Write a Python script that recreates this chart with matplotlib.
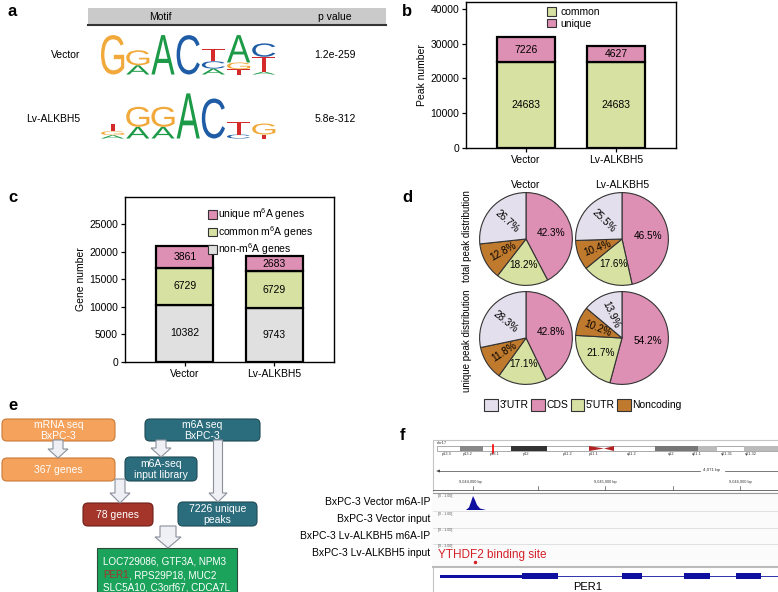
import matplotlib
matplotlib.use('Agg')
import matplotlib.pyplot as plt
from matplotlib.patches import Rectangle, FancyBboxPatch, FancyArrow, Polygon, PathPatch, Patch
from matplotlib.textpath import TextPath
from matplotlib.font_manager import FontProperties
from matplotlib.transforms import Affine2D

plt.rcParams['font.family'] = ['Liberation Sans', 'DejaVu Sans']
plt.rcParams['mathtext.fontset'] = 'custom'
plt.rcParams['mathtext.rm'] = 'Liberation Sans'
plt.rcParams['mathtext.default'] = 'regular'

# ---------------------------------------------------------------- data
groups = ['Vector', 'Lv-ALKBH5']
p_values = ['1.2e-259', '5.8e-312']

# motif columns, letters listed bottom -> top, heights in bits
motif_vector = [[('G', 2.0)], [('A', 0.47), ('G', 0.76)], [('A', 2.0)], [('C', 2.0)],
                [('A', 0.30), ('C', 0.37), ('T', 0.64)], [('T', 0.27), ('G', 0.34), ('A', 1.39)],
                [('A', 0.14), ('T', 0.76), ('C', 0.68)]]
motif_alkbh5 = [[('A', 0.17), ('G', 0.20), ('T', 0.39)], [('A', 0.59), ('G', 1.02)],
                [('A', 0.59), ('G', 1.02)], [('A', 2.29)], [('C', 2.03)],
                [('C', 0.20), ('T', 0.64)], [('T', 0.20), ('G', 0.56)]]

peak_common = [24683, 24683]
peak_unique = [7226, 4627]

gene_non = [10382, 9743]
gene_common = [6729, 6729]
gene_unique = [3861, 2683]

pie_regions = ['CDS', "5'UTR", 'Noncoding', "3'UTR"]
legend_regions = ["3'UTR", 'CDS', "5'UTR", 'Noncoding']
total_vector = [42.3, 18.2, 12.8, 26.7]
total_alkbh5 = [46.5, 17.6, 10.4, 25.5]
unique_vector = [42.8, 17.1, 11.8, 28.3]
unique_alkbh5 = [54.2, 21.7, 10.2, 13.9]

track_names = ['BxPC-3 Vector m6A-IP', 'BxPC-3 Vector input',
               'BxPC-3 Lv-ALKBH5 m6A-IP', 'BxPC-3 Lv-ALKBH5 input']
candidate_genes = ['LOC729086, GTF3A, NPM3', 'PER1', ', RPS29P18, MUC2', 'SLC5A10, C3orf67, CDCA7L']

# ---------------------------------------------------------------- colours
base_colors = {'A': '#1d9a48', 'C': '#1f5ca6', 'G': '#f2a93b', 'T': '#d42a2a'}
c_pink = '#de8fb4'
c_green = '#d6e1a2'
c_gray = '#e0e0e0'
c_lav = '#e4dfec'
c_brown = '#c07a2e'
region_colors = {'CDS': c_pink, "5'UTR": c_green, 'Noncoding': c_brown, "3'UTR": c_lav}
c_orange = '#f4a25c'
c_teal = '#2c6d7d'

W, H = 778, 592
fig = plt.figure(figsize=(W / 100, H / 100), dpi=100)

# overlay axes in pixel coordinates for drawn panels (a, e, f)
ax0 = fig.add_axes([0, 0, 1, 1])
ax0.set_xlim(0, W)
ax0.set_ylim(H, 0)
ax0.axis('off')


def px_axes(left, top, right, bottom):
    return fig.add_axes([left / W, 1 - bottom / H, (right - left) / W, (bottom - top) / H])


for lab, x, y in [('a', 8, 12), ('b', 402, 12), ('c', 8, 197), ('d', 402, 197), ('e', 8, 405), ('f', 400, 436)]:
    ax0.text(x, y, lab, fontsize=12, fontweight='bold', va='center', ha='left')

# ---------------------------------------------------------------- panel a
ax0.add_patch(Rectangle((88, 8), 298, 17, fc='#cacaca', ec='none'))
ax0.plot([88, 386], [25, 25], color='#333333', lw=1.5)
ax0.text(160, 16.5, 'Motif', fontsize=7.5, ha='center', va='center')
ax0.text(335, 16.5, 'p value', fontsize=7.5, ha='center', va='center')

logo_font = FontProperties(family='Liberation Sans')
bit_px = 19.7
col_w = 25.2


def draw_letter(ch, x, y, w, h):
    tp = TextPath((0, 0), ch, size=1, prop=logo_font)
    bb = tp.get_extents()
    tr = Affine2D().translate(-bb.x0, -bb.y0).scale(w / bb.width, -h / bb.height).translate(x, y)
    ax0.add_patch(PathPatch(tr.transform_path(tp), fc=base_colors[ch], ec='none'))


def draw_logo(motif, x0, baseline):
    for i, column in enumerate(motif):
        y = baseline
        for ch, bits in column:
            h = bits * bit_px
            draw_letter(ch, x0 + i * col_w + 1, y, col_w - 2, h)
            y -= h


for motif, base, name, pv in [(motif_vector, 74.5, groups[0], p_values[0]),
                              (motif_alkbh5, 138.5, groups[1], p_values[1])]:
    draw_logo(motif, 100, base)
    ax0.text(80, base - 20, name, fontsize=7.5, ha='right', va='center')
    ax0.text(335, base - 20, pv, fontsize=7.5, ha='center', va='center')

# ---------------------------------------------------------------- bar panels b, c


def style_bar_axes(ax, ylabel):
    for s in ax.spines.values():
        s.set_linewidth(1.0)
    ax.set_xticks([0, 1])
    ax.set_xticklabels(groups)
    ax.set_xlim(-0.67, 1.67)
    ax.tick_params(labelsize=7.5, length=3, width=0.9, pad=2)
    ax.set_ylabel(ylabel, fontsize=7.5, labelpad=2)


bar_kw = dict(width=0.64, edgecolor='black', linewidth=1.6)

axb = px_axes(466, 2, 676, 148)
b1 = axb.bar([0, 1], peak_common, color=c_green, **bar_kw)
b2 = axb.bar([0, 1], peak_unique, bottom=peak_common, color=c_pink, **bar_kw)
for bars in (b1, b2):
    axb.bar_label(bars, label_type='center', fontsize=7.5)
axb.set_ylim(0, 42000)
axb.set_yticks(range(0, 40001, 10000))
style_bar_axes(axb, 'Peak number')
axb.legend([Patch(fc=c_green, ec='#333333', lw=0.8), Patch(fc=c_pink, ec='#333333', lw=0.8)],
           ['common', 'unique'], loc='upper left', bbox_to_anchor=(0.34, 1.03), frameon=False,
           fontsize=7.5, handlelength=0.9, handleheight=0.9, handletextpad=0.4, labelspacing=0.15)

axc = px_axes(125, 197, 334, 362)
bottom2 = [a + b for a, b in zip(gene_non, gene_common)]
c1 = axc.bar([0, 1], gene_non, color=c_gray, **bar_kw)
c2 = axc.bar([0, 1], gene_common, bottom=gene_non, color=c_green, **bar_kw)
c3 = axc.bar([0, 1], gene_unique, bottom=bottom2, color=c_pink, **bar_kw)
for bars in (c1, c2, c3):
    axc.bar_label(bars, label_type='center', fontsize=7.5)
axc.set_ylim(0, 29900)
axc.set_yticks(range(0, 25001, 5000))
style_bar_axes(axc, 'Gene number')
axc.legend([Patch(fc=c, ec='#333333', lw=0.8) for c in (c_pink, c_green, c_gray)],
           ['unique m$^6$A genes', 'common m$^6$A genes', 'non-m$^6$A genes'],
           loc='upper left', bbox_to_anchor=(0.35, 1.0), frameon=False, fontsize=7.5,
           handlelength=0.9, handleheight=0.9, handletextpad=0.1, labelspacing=0.15)

# ---------------------------------------------------------------- panel d pies
pie_sets = [(526, 239, total_vector), (622, 239, total_alkbh5),
            (526, 338, unique_vector), (622, 338, unique_alkbh5)]
S = 58
for cx, cy, vals in pie_sets:
    ax = px_axes(cx - S, cy - S, cx + S, cy + S)
    wedges, _, autotexts = ax.pie(vals, colors=[region_colors[r] for r in pie_regions],
                                  startangle=90, counterclock=False, autopct='%1.1f%%',
                                  pctdistance=0.56, textprops=dict(fontsize=7.2),
                                  wedgeprops=dict(edgecolor='#333333', linewidth=0.8))
    for w, t, r in zip(wedges, autotexts, pie_regions):
        if r in ("3'UTR", 'Noncoding'):
            mid = ((w.theta1 + w.theta2) / 2) % 360
            t.set_rotation(mid - 180 if 90 < mid < 270 else mid)
            t.set_rotation_mode('anchor')
    ax.set_xlim(-1.25, 1.25)
    ax.set_ylim(-1.25, 1.25)

for x, name in zip([526, 622], groups):
    ax0.text(x, 185, name, fontsize=7.5, ha='center', va='center')
ax0.text(467, 236, 'total peak distribution', fontsize=7, rotation=90, ha='center', va='center')
ax0.text(467, 341, 'unique peak distribution', fontsize=7, rotation=90, ha='center', va='center')
fig.legend([Patch(fc=region_colors[r], ec='#333333', lw=0.8) for r in legend_regions], legend_regions,
           loc='center', bbox_to_anchor=(583 / W, 1 - 405 / H), ncol=4, frameon=False, fontsize=7.5,
           handlelength=1.3, handleheight=1.3, handletextpad=0.15, columnspacing=0.25)

# ---------------------------------------------------------------- panel e flowchart


def box(x, y, w, h, color, edge, text, rounded=True):
    style = 'round,pad=0,rounding_size=5' if rounded else 'square,pad=0'
    ax0.add_patch(FancyBboxPatch((x, y), w, h, boxstyle=style, fc=color, ec=edge, lw=0.8, zorder=2))
    if text:
        ax0.text(x + w / 2, y + h / 2 + 0.5, text, color='white', fontsize=7.5, ha='center', va='center',
                 linespacing=1.05, zorder=4)


box(2, 419, 113, 22, c_orange, '#c87a36', 'mRNA seq\nBxPC-3')
box(145, 419, 115, 22, c_teal, '#1c4a55', 'm6A seq\nBxPC-3')
box(2, 458, 113, 23, c_orange, '#c87a36', '367 genes')
box(125, 457, 72, 24, c_teal, '#1c4a55', 'm6A-seq\ninput library')
box(83, 503, 70, 23, '#a4352b', '#6e1f18', '78 genes')
box(178, 502, 79, 24, c_teal, '#1c4a55', '7226 unique\npeaks')
box(97, 548, 140, 44, '#1ba35c', '#2c4c3a', None, rounded=False)

arrow_kw = dict(fc='#eef0f6', ec='#8a8f99', lw=0.8, length_includes_head=True, zorder=3)
for x, y0, y1, sw, hw, hl in [(58, 440, 458, 10, 20, 9), (161, 440, 457, 10, 20, 9),
                              (218, 440, 502, 9, 18, 9), (120, 479, 503, 10, 20, 10),
                              (168, 526, 548, 16, 26, 11)]:
    ax0.add_patch(FancyArrow(x, y0, 0, y1 - y0, width=sw, head_width=hw, head_length=hl, **arrow_kw))

gene_fs = 7.1
ax0.text(103, 562, candidate_genes[0], color='white', fontsize=gene_fs, va='center', ha='left', zorder=4)
t2 = ax0.text(103, 575, candidate_genes[1], color='#a4352b', fontsize=gene_fs, va='center', ha='left', zorder=4)
ax0.annotate(candidate_genes[2], xy=(1, 0.5), xycoords=t2, va='center', ha='left',
             color='white', fontsize=gene_fs, zorder=4)
ax0.text(103, 587, candidate_genes[3], color='white', fontsize=gene_fs, va='center', ha='left', zorder=4)

# ---------------------------------------------------------------- panel f genome browser
ax0.add_patch(Rectangle((433, 440), 350, 160, fc='white', ec='#c4c4c4', lw=0.8))
ax0.text(437, 443, 'chr17', fontsize=3, va='center', color='#333333')
ax0.add_patch(Rectangle((437, 446), 345, 5, fc='white', ec='#888888', lw=0.5))
for x0, x1, col in [(460, 483, '#888888'), (511, 547, '#333333'), (655, 698, '#777777'),
                    (698, 717, '#bbbbbb'), (744, 778, '#bbbbbb')]:
    ax0.add_patch(Rectangle((x0, 446), x1 - x0, 5, fc=col, ec='none'))
ax0.add_patch(Polygon([(589, 446), (589, 451), (604, 448.5)], fc='#b22222', ec='none'))
ax0.add_patch(Polygon([(614, 446), (614, 451), (604, 448.5)], fc='#b22222', ec='none'))
ax0.plot([493, 493], [444.5, 452.5], color='red', lw=1.2)
for x, lab in [(442, 'p13.3'), (463, 'p13.2'), (490, 'p13.1'), (523, 'p12'), (563, 'p11.2'),
               (589, 'p11.1'), (627, 'q11.2'), (668, 'q12'), (692, 'q21.1'), (721, 'q21.31'), (745, 'q21.32')]:
    ax0.text(x, 454, lab, fontsize=2.8, va='center', color='#333333')
ax0.plot([438, 700], [471, 471], color='#444444', lw=0.5)
ax0.plot([725, 778], [471, 471], color='#444444', lw=0.5)
ax0.add_patch(Polygon([(436, 471), (440, 469.5), (440, 472.5)], fc='#444444', ec='none'))
ax0.text(712, 470, '4,071 bp', fontsize=3.2, ha='center', va='center', color='#333333')
for x, lab in [(470, '9,044,000 bp'), (605, '9,045,000 bp'), (740, '9,046,000 bp')]:
    ax0.text(x, 482, lab, fontsize=2.8, ha='center', va='center', color='#333333')
for x in [473, 538, 605, 673, 740]:
    ax0.plot([x, x], [486, 490], color='#555555', lw=0.5)
ax0.plot([433, 778], [490, 490], color='#555555', lw=0.6)
ax0.add_patch(Rectangle((433, 492), 345, 75, fc='#fbfbfb', ec='none'))
ax0.plot([433, 778], [492.5, 492.5], color='#999999', lw=0.8)
for y in [511, 528, 544]:
    ax0.plot([433, 778], [y, y], color='#dddddd', lw=0.6)
ax0.plot([433, 778], [567, 567], color='#bbbbbb', lw=1.5)
for y in [495.5, 513.5, 530.5, 546.5]:
    ax0.text(438, y, '[0 - 1.00]', fontsize=2.6, va='center', color='#555555')
ax0.add_patch(Polygon([(466, 510), (469, 507.5), (471, 502), (473, 496), (475, 500), (477, 505),
                       (480, 508.5), (486, 510)], fc='#1010a0', ec='none'))
for name, y in zip(track_names, [502, 519, 536, 553]):
    ax0.text(430, y, name, fontsize=7.5, ha='right', va='center')
ax0.text(438, 555, 'YTHDF2 binding site', color='#d42027', fontsize=8.5, va='center')
ax0.plot([475], [562], 'o', color='#d42027', ms=1.5)

gene_c = '#1010a0'
ax0.plot([440, 778], [576, 576], color=gene_c, lw=0.6)
ax0.add_patch(Rectangle((440, 574.5), 82, 3, fc=gene_c, ec='none'))
for x0, x1 in [(522, 558), (622, 642), (684, 710), (736, 761)]:
    ax0.add_patch(Rectangle((x0, 573), x1 - x0, 6, fc=gene_c, ec='none'))
ax0.text(588, 587, 'PER1', fontsize=8, ha='center', va='center')

fig.savefig('out.png', dpi=100)
